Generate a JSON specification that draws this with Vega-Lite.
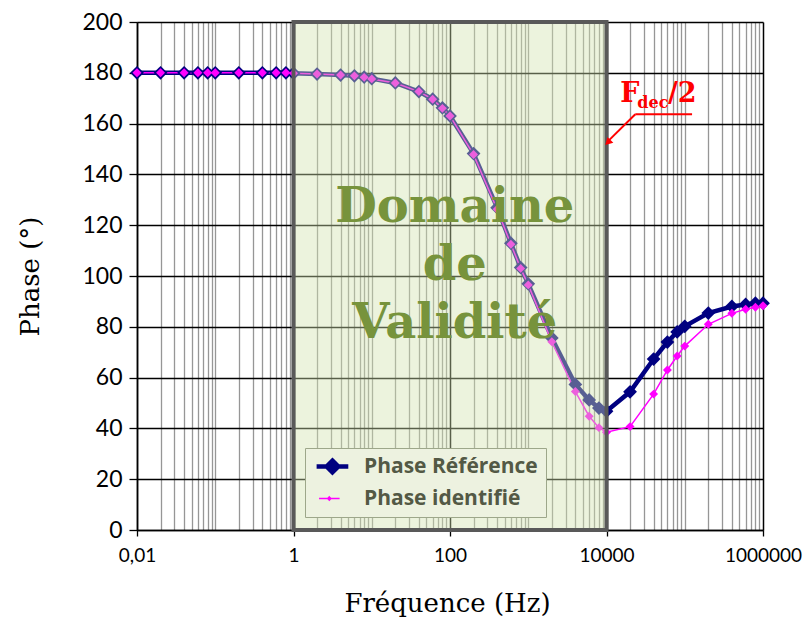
{
  "$schema": "https://vega.github.io/schema/vega-lite/v6.json",
  "width": 626,
  "height": 508,
  "autosize": "none",
  "padding": {"left": 137, "top": 22, "right": 47, "bottom": 89},
  "background": "white",
  "config": {"view": {"stroke": null}},
  "datasets": {
    "phase": [
      {"freq": 0.01, "phase": 180, "series": "Phase Référence"},
      {"freq": 0.02, "phase": 180, "series": "Phase Référence"},
      {"freq": 0.04, "phase": 180, "series": "Phase Référence"},
      {"freq": 0.06, "phase": 180, "series": "Phase Référence"},
      {"freq": 0.08, "phase": 180, "series": "Phase Référence"},
      {"freq": 0.1, "phase": 180, "series": "Phase Référence"},
      {"freq": 0.2, "phase": 180, "series": "Phase Référence"},
      {"freq": 0.4, "phase": 180, "series": "Phase Référence"},
      {"freq": 0.6, "phase": 180, "series": "Phase Référence"},
      {"freq": 0.8, "phase": 180, "series": "Phase Référence"},
      {"freq": 1, "phase": 179.8, "series": "Phase Référence"},
      {"freq": 2, "phase": 179.5, "series": "Phase Référence"},
      {"freq": 4, "phase": 179.1, "series": "Phase Référence"},
      {"freq": 6, "phase": 178.8, "series": "Phase Référence"},
      {"freq": 8, "phase": 178.3, "series": "Phase Référence"},
      {"freq": 10, "phase": 177.7, "series": "Phase Référence"},
      {"freq": 20, "phase": 176, "series": "Phase Référence"},
      {"freq": 40, "phase": 172.6, "series": "Phase Référence"},
      {"freq": 60, "phase": 169.6, "series": "Phase Référence"},
      {"freq": 80, "phase": 166.2, "series": "Phase Référence"},
      {"freq": 100, "phase": 163, "series": "Phase Référence"},
      {"freq": 200, "phase": 148.2, "series": "Phase Référence"},
      {"freq": 400, "phase": 126.9, "series": "Phase Référence"},
      {"freq": 600, "phase": 112.9, "series": "Phase Référence"},
      {"freq": 800, "phase": 103.3, "series": "Phase Référence"},
      {"freq": 1000, "phase": 96.9, "series": "Phase Référence"},
      {"freq": 2000, "phase": 75.6, "series": "Phase Référence"},
      {"freq": 4000, "phase": 57.3, "series": "Phase Référence"},
      {"freq": 6000, "phase": 51.2, "series": "Phase Référence"},
      {"freq": 8000, "phase": 48, "series": "Phase Référence"},
      {"freq": 10000, "phase": 46.8, "series": "Phase Référence"},
      {"freq": 20000, "phase": 54.4, "series": "Phase Référence"},
      {"freq": 40000, "phase": 67.3, "series": "Phase Référence"},
      {"freq": 60000, "phase": 74, "series": "Phase Référence"},
      {"freq": 80000, "phase": 78, "series": "Phase Référence"},
      {"freq": 100000, "phase": 80.2, "series": "Phase Référence"},
      {"freq": 200000, "phase": 85.4, "series": "Phase Référence"},
      {"freq": 400000, "phase": 88, "series": "Phase Référence"},
      {"freq": 600000, "phase": 88.8, "series": "Phase Référence"},
      {"freq": 800000, "phase": 89.3, "series": "Phase Référence"},
      {"freq": 1000000, "phase": 89.3, "series": "Phase Référence"},
      {"freq": 0.01, "phase": 180, "series": "Phase identifié"},
      {"freq": 0.02, "phase": 180, "series": "Phase identifié"},
      {"freq": 0.04, "phase": 180, "series": "Phase identifié"},
      {"freq": 0.06, "phase": 180, "series": "Phase identifié"},
      {"freq": 0.08, "phase": 180, "series": "Phase identifié"},
      {"freq": 0.1, "phase": 180, "series": "Phase identifié"},
      {"freq": 0.2, "phase": 180, "series": "Phase identifié"},
      {"freq": 0.4, "phase": 180, "series": "Phase identifié"},
      {"freq": 0.6, "phase": 180, "series": "Phase identifié"},
      {"freq": 0.8, "phase": 180, "series": "Phase identifié"},
      {"freq": 1, "phase": 179.8, "series": "Phase identifié"},
      {"freq": 2, "phase": 179.5, "series": "Phase identifié"},
      {"freq": 4, "phase": 179.1, "series": "Phase identifié"},
      {"freq": 6, "phase": 178.8, "series": "Phase identifié"},
      {"freq": 8, "phase": 178.2, "series": "Phase identifié"},
      {"freq": 10, "phase": 177.6, "series": "Phase identifié"},
      {"freq": 20, "phase": 176, "series": "Phase identifié"},
      {"freq": 40, "phase": 172.6, "series": "Phase identifié"},
      {"freq": 60, "phase": 169.6, "series": "Phase identifié"},
      {"freq": 80, "phase": 166, "series": "Phase identifié"},
      {"freq": 100, "phase": 163, "series": "Phase identifié"},
      {"freq": 200, "phase": 147.8, "series": "Phase identifié"},
      {"freq": 400, "phase": 126.3, "series": "Phase identifié"},
      {"freq": 600, "phase": 112.5, "series": "Phase identifié"},
      {"freq": 800, "phase": 103, "series": "Phase identifié"},
      {"freq": 1000, "phase": 96.5, "series": "Phase identifié"},
      {"freq": 2000, "phase": 74.1, "series": "Phase identifié"},
      {"freq": 4000, "phase": 54.5, "series": "Phase identifié"},
      {"freq": 6000, "phase": 44.8, "series": "Phase identifié"},
      {"freq": 8000, "phase": 40.3, "series": "Phase identifié"},
      {"freq": 10000, "phase": 38.5, "series": "Phase identifié"},
      {"freq": 20000, "phase": 40.7, "series": "Phase identifié"},
      {"freq": 40000, "phase": 53.5, "series": "Phase identifié"},
      {"freq": 60000, "phase": 63, "series": "Phase identifié"},
      {"freq": 80000, "phase": 68.5, "series": "Phase identifié"},
      {"freq": 100000, "phase": 72.4, "series": "Phase identifié"},
      {"freq": 200000, "phase": 81, "series": "Phase identifié"},
      {"freq": 400000, "phase": 85.3, "series": "Phase identifié"},
      {"freq": 600000, "phase": 86.9, "series": "Phase identifié"},
      {"freq": 800000, "phase": 87.7, "series": "Phase identifié"},
      {"freq": 1000000, "phase": 88.3, "series": "Phase identifié"}
    ],
    "zone": [{"freq": 1, "freq2": 10000, "phase": 0, "phase2": 200}],
    "zoneText": [
      {"t": "Domaine", "freq": 115, "phase": 121.4},
      {"t": "de", "freq": 115, "phase": 98.4},
      {"t": "Validité", "freq": 115, "phase": 75.6}
    ],
    "arrowLines": [
      {"freq": 23330, "freq2": 124000, "phase": 163.7, "phase2": 163.7},
      {"freq": 23330, "freq2": 10800, "phase": 163.7, "phase2": 153.5}
    ],
    "arrowHead": [{"freq": 10400, "phase": 152.6}],
    "annF": [{"t": "F", "freq": 15000, "phase": 168.5}],
    "annDec": [{"t": "dec", "freq": 24800, "phase": 166.3}],
    "annHalf": [{"t": "/2", "freq": 61000, "phase": 168.5}]
  },
  "layer": [
    {
      "data": {"name": "phase"},
      "encoding": {
        "x": {
          "field": "freq",
          "type": "quantitative",
          "scale": {"type": "log", "domain": [0.01, 1000000]},
          "axis": {
            "title": "Fréquence (Hz)",
            "titleFont": "DejaVu Serif",
            "titleFontSize": 26,
            "titleFontWeight": "normal",
            "titleColor": "#000000",
            "titleX": 310,
            "titleY": 73,
            "titleAlign": "center",
            "titleBaseline": "middle",
            "values": [0.01,0.02,0.03,0.04,0.05,0.06,0.07,0.08,0.09,0.1,0.2,0.3,0.4,0.5,0.6,0.7,0.8,0.9,1,2,3,4,5,6,7,8,9,10,20,30,40,50,60,70,80,90,100,200,300,400,500,600,700,800,900,1000,2000,3000,4000,5000,6000,7000,8000,9000,10000,20000,30000,40000,50000,60000,70000,80000,90000,100000,200000,300000,400000,500000,600000,700000,800000,900000,1000000],
            "labelExpr": "datum.value === 0.01 ? '0,01' : datum.value === 1 ? '1' : datum.value === 100 ? '100' : datum.value === 10000 ? '10000' : datum.value === 1000000 ? '1000000' : ''",
            "labelFont": "Lato",
            "labelFontSize": 19,
            "labelColor": "#000000",
            "labelPadding": 10,
            "labelFlush": false,
            "labelOverlap": false,
            "labelBound": false,
            "tickColor": "#000000",
            "tickSize": 6,
            "tickWidth": 1.3,
            "tickOpacity": {"condition": {"test": "datum.value === 0.01 || datum.value === 1 || datum.value === 100 || datum.value === 10000 || datum.value === 1000000", "value": 1}, "value": 0},
            "domainColor": "#000000",
            "domainWidth": 1.5,
            "grid": true,
            "gridColor": {"condition": {"test": "datum.value === 0.01 || datum.value === 1 || datum.value === 100 || datum.value === 10000 || datum.value === 1000000", "value": "#000000"}, "value": "#969696"},
            "gridWidth": {"condition": {"test": "datum.value === 0.01 || datum.value === 1 || datum.value === 100 || datum.value === 10000 || datum.value === 1000000", "value": 1.5}, "value": 1.3},
            "gridOpacity": 1
          }
        },
        "y": {
          "field": "phase",
          "type": "quantitative",
          "scale": {"domain": [0, 200], "nice": false},
          "axis": {
            "title": "Phase (°)",
            "titleFont": "DejaVu Serif",
            "titleFontSize": 26,
            "titleFontWeight": "normal",
            "titleColor": "#000000",
            "titleX": -107,
            "titleY": 254,
            "titleAlign": "center",
            "titleBaseline": "middle",
            "values": [0, 20, 40, 60, 80, 100, 120, 140, 160, 180, 200],
            "labelFont": "Lato",
            "labelFontSize": 23,
            "labelColor": "#000000",
            "labelPadding": 7,
            "tickColor": "#000000",
            "tickSize": 8,
            "tickWidth": 1.3,
            "domainColor": "#000000",
            "domainWidth": 1.5,
            "grid": true,
            "gridColor": "#000000",
            "gridWidth": 1.3,
            "gridOpacity": 1
          }
        },
        "color": {
          "field": "series",
          "type": "nominal",
          "scale": {"domain": ["Phase Référence", "Phase identifié"], "range": ["#000080", "#FF00FF"]},
          "legend": {
            "orient": "none",
            "legendX": 168,
            "legendY": 426,
            "title": null,
            "fillColor": "#EDF2E0",
            "strokeColor": "#9DA78A",
            "padding": 8,
            "labelFont": "Open Sans",
            "labelFontSize": 21,
            "labelFontWeight": "bold",
            "labelColor": "#535945",
            "labelLimit": 0,
            "symbolSize": 400,
            "labelOffset": 30,
            "rowPadding": 5,
            "symbolType": "M-1,0L3.6,0M1.3,-0.85L2.15,0L1.3,0.85L0.45,0Z",
            "encode": {
              "symbols": {
                "update": {
                  "shape": {"signal": "datum.value === 'Phase Référence' ? 'M-1,0L3.6,0M1.3,-0.85L2.15,0L1.3,0.85L0.45,0Z' : 'M-1,0L3.6,0M1.3,-0.35L1.65,0L1.3,0.35L0.95,0Z'"},
                  "fill": {"signal": "datum.value === 'Phase Référence' ? '#535992' : '#EC59DE'"},
                  "stroke": {"signal": "datum.value === 'Phase Référence' ? '#535992' : '#EC59DE'"},
                  "strokeWidth": {"signal": "datum.value === 'Phase Référence' ? 4 : 1.5"},
                  "opacity": {"value": 1}
                }
              }
            }
          }
        }
      },
      "layer": [
        {
          "mark": {"type": "line"},
          "encoding": {
            "strokeWidth": {"field": "series", "type": "nominal", "scale": {"domain": ["Phase Référence", "Phase identifié"], "range": [4.5, 1.5]}, "legend": null}
          }
        },
        {
          "mark": {"type": "point", "shape": "diamond", "filled": true, "opacity": 1},
          "encoding": {
            "size": {"field": "series", "type": "nominal", "scale": {"domain": ["Phase Référence", "Phase identifié"], "range": [190, 80]}, "legend": null}
          }
        }
      ]
    },
    {
      "data": {"name": "zone"},
      "mark": {"type": "rect", "fill": "#D2E2AE", "fillOpacity": 0.42},
      "encoding": {
        "x": {"field": "freq", "type": "quantitative"},
        "x2": {"field": "freq2"},
        "y": {"field": "phase", "type": "quantitative"},
        "y2": {"field": "phase2"}
      }
    },
    {
      "data": {"name": "zone"},
      "mark": {"type": "rect", "fillOpacity": 0, "stroke": "#595959", "strokeWidth": 4},
      "encoding": {
        "x": {"field": "freq", "type": "quantitative"},
        "x2": {"field": "freq2"},
        "y": {"field": "phase", "type": "quantitative"},
        "y2": {"field": "phase2"}
      }
    },
    {
      "data": {"name": "zoneText"},
      "mark": {"type": "text", "font": "DejaVu Serif", "fontWeight": "bold", "fontSize": 48, "color": "#77933C", "align": "center", "baseline": "alphabetic"},
      "encoding": {
        "x": {"field": "freq", "type": "quantitative"},
        "y": {"field": "phase", "type": "quantitative"},
        "text": {"field": "t"}
      }
    },
    {
      "data": {"name": "arrowLines"},
      "mark": {"type": "rule", "color": "#FF0000", "strokeWidth": 2},
      "encoding": {
        "x": {"field": "freq", "type": "quantitative"},
        "x2": {"field": "freq2"},
        "y": {"field": "phase", "type": "quantitative"},
        "y2": {"field": "phase2"}
      }
    },
    {
      "data": {"name": "arrowHead"},
      "mark": {"type": "point", "shape": "triangle-up", "filled": true, "color": "#FF0000", "size": 70, "angle": 225, "opacity": 1},
      "encoding": {
        "x": {"field": "freq", "type": "quantitative"},
        "y": {"field": "phase", "type": "quantitative"}
      }
    },
    {
      "data": {"name": "annF"},
      "mark": {"type": "text", "font": "DejaVu Serif", "fontWeight": "bold", "fontSize": 27, "color": "#FF0000", "align": "left", "baseline": "alphabetic"},
      "encoding": {
        "x": {"field": "freq", "type": "quantitative"},
        "y": {"field": "phase", "type": "quantitative"},
        "text": {"field": "t"}
      }
    },
    {
      "data": {"name": "annDec"},
      "mark": {"type": "text", "font": "DejaVu Serif", "fontWeight": "bold", "fontSize": 16, "color": "#FF0000", "align": "left", "baseline": "alphabetic"},
      "encoding": {
        "x": {"field": "freq", "type": "quantitative"},
        "y": {"field": "phase", "type": "quantitative"},
        "text": {"field": "t"}
      }
    },
    {
      "data": {"name": "annHalf"},
      "mark": {"type": "text", "font": "DejaVu Serif", "fontWeight": "bold", "fontSize": 27, "color": "#FF0000", "align": "left", "baseline": "alphabetic"},
      "encoding": {
        "x": {"field": "freq", "type": "quantitative"},
        "y": {"field": "phase", "type": "quantitative"},
        "text": {"field": "t"}
      }
    }
  ]
}
